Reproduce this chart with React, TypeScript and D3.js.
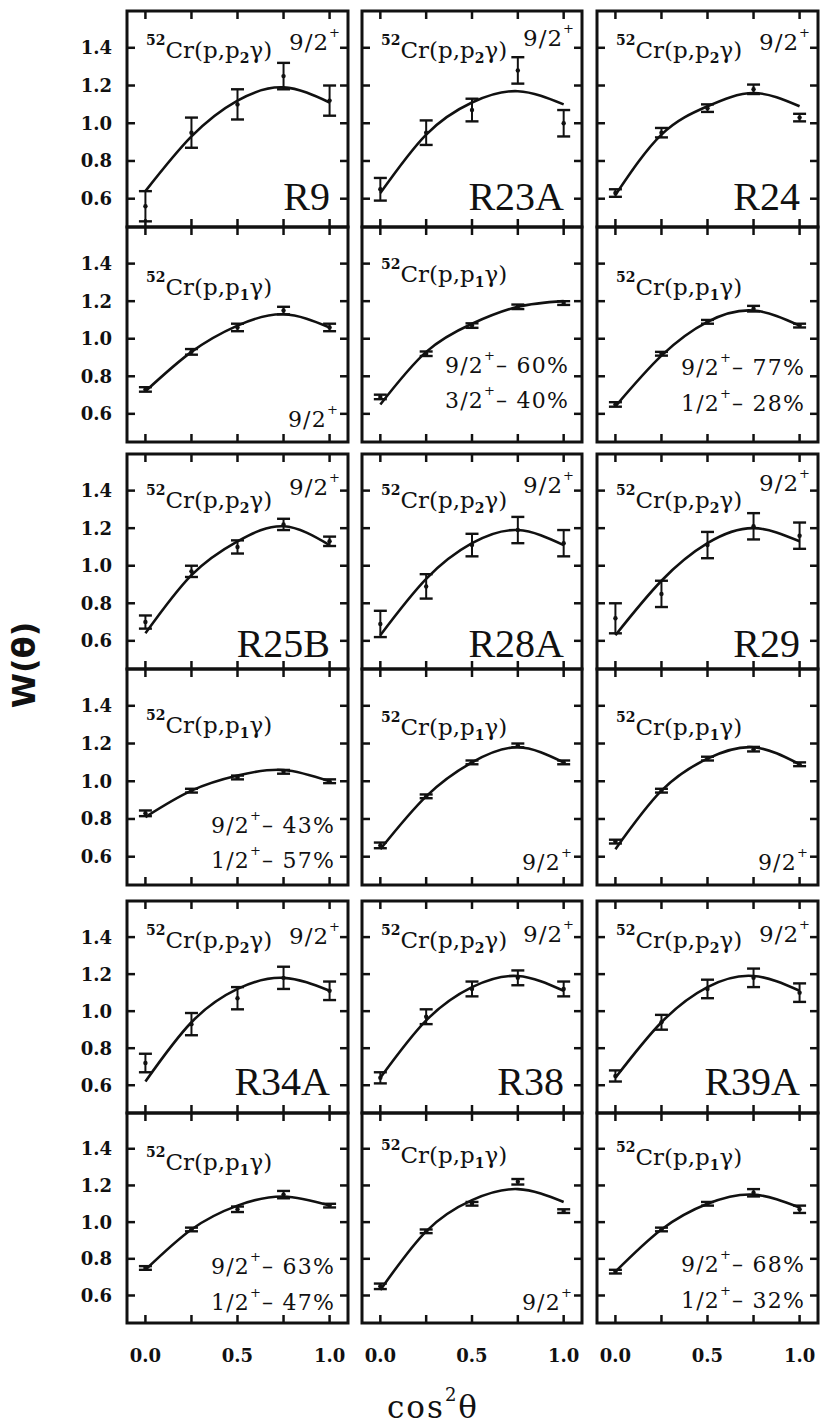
import React from "react";
import * as d3 from "d3";

// ---------- data ----------
const cosSq = [0, 0.25, 0.5, 0.75, 1.0];
const xTicks = [0, 0.25, 0.5, 0.75, 1.0];
const xTickLabelValues = [0, 0.5, 1.0];
const yTicks = [0.6, 0.8, 1.0, 1.2, 1.4];

const runLabels = ["R9", "R23A", "R24", "", "", "", "R25B", "R28A", "R29", "", "", "", "R34A", "R38", "R39A", "", "", ""];
const channels = ["2", "2", "2", "1", "1", "1", "2", "2", "2", "1", "1", "1", "2", "2", "2", "1", "1", "1"];
const topSpins = ["9/2", "9/2", "9/2", "", "", "", "9/2", "9/2", "9/2", "", "", "", "9/2", "9/2", "9/2", "", "", ""];
const mixSpins = [[], [], [], ["9/2"], ["9/2", "3/2"], ["9/2", "1/2"], [], [], [], ["9/2", "1/2"], ["9/2"], ["9/2"], [], [], [], ["9/2", "1/2"], ["9/2"], ["9/2", "1/2"]];
const mixPercents = [[], [], [], [""], ["60%", "40%"], ["77%", "28%"], [], [], [], ["43%", "57%"], [""], [""], [], [], [], ["63%", "47%"], [""], ["68%", "32%"]];

const pointValues = [
  [0.56, 0.95, 1.10, 1.25, 1.12],
  [0.65, 0.95, 1.07, 1.28, 1.00],
  [0.63, 0.95, 1.08, 1.18, 1.03],
  [0.73, 0.93, 1.06, 1.15, 1.06],
  [0.69, 0.92, 1.07, 1.17, 1.19],
  [0.65, 0.92, 1.09, 1.16, 1.07],
  [0.70, 0.97, 1.10, 1.22, 1.13],
  [0.69, 0.89, 1.11, 1.19, 1.12],
  [0.72, 0.85, 1.11, 1.21, 1.16],
  [0.83, 0.95, 1.02, 1.05, 1.00],
  [0.66, 0.92, 1.10, 1.19, 1.10],
  [0.68, 0.95, 1.12, 1.17, 1.09],
  [0.72, 0.93, 1.07, 1.18, 1.11],
  [0.64, 0.97, 1.12, 1.18, 1.12],
  [0.65, 0.94, 1.12, 1.18, 1.10],
  [0.75, 0.96, 1.07, 1.15, 1.09],
  [0.65, 0.95, 1.10, 1.22, 1.06],
  [0.73, 0.96, 1.10, 1.16, 1.07],
];
const pointErrors = [
  [0.08, 0.08, 0.08, 0.07, 0.08],
  [0.06, 0.065, 0.06, 0.07, 0.07],
  [0.02, 0.025, 0.02, 0.025, 0.02],
  [0.012, 0.015, 0.02, 0.02, 0.02],
  [0.012, 0.012, 0.012, 0.012, 0.01],
  [0.012, 0.01, 0.01, 0.015, 0.01],
  [0.035, 0.03, 0.035, 0.03, 0.025],
  [0.07, 0.065, 0.06, 0.07, 0.07],
  [0.08, 0.07, 0.07, 0.07, 0.07],
  [0.015, 0.01, 0.01, 0.01, 0.01],
  [0.015, 0.01, 0.01, 0.01, 0.01],
  [0.01, 0.01, 0.01, 0.012, 0.01],
  [0.05, 0.06, 0.06, 0.06, 0.05],
  [0.03, 0.04, 0.04, 0.04, 0.04],
  [0.03, 0.04, 0.05, 0.05, 0.05],
  [0.01, 0.01, 0.015, 0.02, 0.01],
  [0.015, 0.01, 0.01, 0.015, 0.01],
  [0.01, 0.01, 0.01, 0.02, 0.02],
];
const fitValues = [
  [0.64, 0.93, 1.12, 1.19, 1.11],
  [0.63, 0.94, 1.11, 1.17, 1.10],
  [0.62, 0.94, 1.09, 1.16, 1.09],
  [0.72, 0.93, 1.07, 1.13, 1.06],
  [0.65, 0.93, 1.08, 1.17, 1.20],
  [0.64, 0.91, 1.09, 1.15, 1.07],
  [0.64, 0.95, 1.13, 1.21, 1.11],
  [0.63, 0.93, 1.12, 1.19, 1.11],
  [0.63, 0.92, 1.12, 1.20, 1.13],
  [0.81, 0.95, 1.03, 1.06, 1.00],
  [0.64, 0.92, 1.10, 1.18, 1.10],
  [0.64, 0.95, 1.12, 1.18, 1.09],
  [0.62, 0.94, 1.12, 1.18, 1.11],
  [0.64, 0.95, 1.13, 1.19, 1.11],
  [0.64, 0.94, 1.13, 1.19, 1.11],
  [0.74, 0.96, 1.09, 1.14, 1.09],
  [0.63, 0.95, 1.12, 1.18, 1.11],
  [0.73, 0.96, 1.10, 1.15, 1.08],
];

// ---------- layout ----------
const colEdges = [[127, 348], [362, 582], [597, 818]];
const rowEdges = [[11, 227], [227, 442], [454, 669], [669, 885], [901, 1113], [1113, 1323]];
const reactionBase = [47, 47, 47, 68, 55, 68, 54, 54, 54, 64, 66, 66, 47, 47, 47, 57, 50, 52];
const mixBase = [[], [], [], [200], [146, 181], [148, 184], [], [], [], [164, 199], [201], [201], [], [], [], [161, 197], [197], [159, 195]];
const runBaseFromBottom = [17, 17, 17, 0, 0, 0, 12, 12, 12, 0, 0, 0, 18, 18, 18, 0, 0, 0];
const topSpinBase = [39, 35, 39, 0, 0, 0, 41, 39, 37, 0, 0, 0, 43, 41, 41, 0, 0, 0];

const SERIF = "'DejaVu Serif', serif";
const ink = "#111";

function Panel({ i }: { i: number }) {
  const col = i % 3;
  const row = Math.floor(i / 3);
  const [x0, x1] = colEdges[col];
  const [y0, y1] = rowEdges[row];
  const x = d3.scaleLinear().domain([-0.1, 1.1]).range([x0, x1]);
  const y = d3.scaleLinear().domain([0.45, 1.595]).range([y1, y0]);
  const line = d3
    .line<number>()
    .x((_, k) => x(cosSq[k]))
    .y((d) => y(d))
    .curve(d3.curveNatural);
  const tl = 8;
  const pts = pointValues[i];
  const errs = pointErrors[i];
  return (
    <g>
      <rect x={x0} y={y0} width={x1 - x0} height={y1 - y0} fill="none" stroke={ink} strokeWidth={3} />
      {xTicks.map((t) => (
        <g key={"xt" + t} stroke={ink} strokeWidth={2.5}>
          <line x1={x(t)} x2={x(t)} y1={y0} y2={y0 + tl} />
          <line x1={x(t)} x2={x(t)} y1={y1} y2={y1 - tl} />
        </g>
      ))}
      {yTicks.map((t) => (
        <g key={"yt" + t} stroke={ink} strokeWidth={2.5}>
          <line x1={x0} x2={x0 + tl} y1={y(t)} y2={y(t)} />
          <line x1={x1} x2={x1 - tl} y1={y(t)} y2={y(t)} />
        </g>
      ))}
      {col === 0 &&
        yTicks.map((t) => (
          <text key={"yl" + t} x={x0 - 15} y={y(t) + 6.5} textAnchor="end" fontFamily={SERIF} fontWeight="bold" fontSize={18} fill={ink}>
            {t.toFixed(1)}
          </text>
        ))}
      <path d={line(fitValues[i]) || ""} fill="none" stroke={ink} strokeWidth={2.6} />
      {pts.map((v, k) => {
        const cx = x(cosSq[k]);
        const lo = y(v - errs[k]);
        const hi = y(v + errs[k]);
        return (
          <g key={"p" + k} stroke={ink} strokeWidth={2}>
            <line x1={cx} x2={cx} y1={lo} y2={hi} />
            <line x1={cx - 6.5} x2={cx + 6.5} y1={lo} y2={lo} strokeWidth={2.4} />
            <line x1={cx - 6.5} x2={cx + 6.5} y1={hi} y2={hi} strokeWidth={2.4} />
            <circle cx={cx} cy={y(v)} r={2.2} fill={ink} stroke="none" />
          </g>
        );
      })}
      <text x={x0 + 19} y={y0 + reactionBase[i]} fontFamily={SERIF} fill={ink}>
        <tspan fontSize={14} fontWeight="bold" dy={-13}>52</tspan>
        <tspan fontSize={23} dy={13}>Cr(p,p</tspan>
        <tspan fontSize={14} fontWeight="bold" dy={5}>{channels[i]}</tspan>
        <tspan fontSize={23} dy={-5}>γ)</tspan>
      </text>
      {topSpins[i] && (
        <text x={x1 - 7} y={y0 + topSpinBase[i]} textAnchor="end" fontFamily={SERIF} fontSize={23} letterSpacing={1} fill={ink}>
          <tspan>{topSpins[i]}</tspan>
          <tspan fontSize={13} dy={-13}>+</tspan>
        </text>
      )}
      {runLabels[i] && (
        <text x={x1 - 18} y={y1 - runBaseFromBottom[i]} textAnchor="end" fontFamily="'Liberation Serif', serif" fontSize={40} fill={ink}>
          {runLabels[i]}
        </text>
      )}
      {mixSpins[i].map((s, k) => (
        <text key={"m" + k} x={mixPercents[i][k] ? x1 - 13 : x1 - 9} y={y0 + mixBase[i][k]} textAnchor="end" fontFamily={SERIF} fontSize={22} letterSpacing={1.2} fill={ink}>
          <tspan>{s}</tspan>
          <tspan fontSize={13} dy={-13}>+</tspan>
          {mixPercents[i][k] ? <tspan dy={13}>{"–  " + mixPercents[i][k]}</tspan> : null}
        </text>
      ))}
    </g>
  );
}

export default function App() {
  const bottom = rowEdges[5][1];
  return (
    <svg width={820} height={1425} style={{ position: "absolute", left: 0, top: 0, background: "#fff" }}>
      <rect width={820} height={1425} fill="#fff" />
      {d3.range(18).map((i) => (
        <Panel key={i} i={i} />
      ))}
      {colEdges.map(([a, b], c) => {
        const x = d3.scaleLinear().domain([-0.1, 1.1]).range([a, b]);
        return xTickLabelValues.map((t) => (
          <text key={c + "-" + t} x={x(t)} y={bottom + 39} textAnchor="middle" fontFamily={SERIF} fontWeight="bold" fontSize={18} fill={ink}>
            {t.toFixed(1)}
          </text>
        ));
      })}
      <text transform="translate(35,665) rotate(-90)" textAnchor="middle" fontFamily="'DejaVu Sans', sans-serif" fontWeight="bold" fontSize={32} fill={ink}>
        W(θ)
      </text>
      <text x={433} y={1418} textAnchor="middle" fontFamily={SERIF} fontSize={31} fill={ink} letterSpacing={2}>
        <tspan>cos</tspan>
        <tspan fontSize={18} dy={-17}>2</tspan>
        <tspan dy={17}>θ</tspan>
      </text>
    </svg>
  );
}
